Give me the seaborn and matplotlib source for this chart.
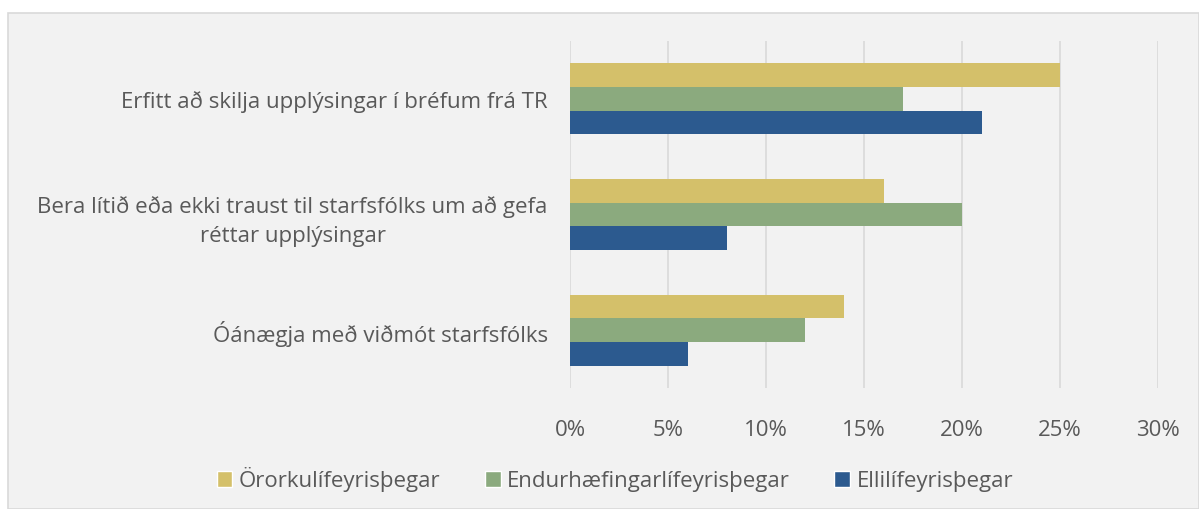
import pandas as pd
import numpy as np
import matplotlib.pyplot as plt
import seaborn as sns
from matplotlib.patches import Rectangle, Patch

# data
categories = [
    "Erfitt að skilja upplýsingar í bréfum frá TR",
    "Bera lítið eða ekki traust til starfsfólks um að gefa\nréttar upplýsingar",
    "Óánægja með viðmót starfsfólks",
]
series = ["Örorkulífeyrisþegar", "Endurhæfingarlífeyrisþegar", "Ellilífeyrisþegar"]
oror = [25, 16, 14]
endur = [17, 20, 12]
elli = [21, 8, 6]
colors = ["#D4C06A", "#8BAA7E", "#2C5A8F"]
xticks = [0, 5, 10, 15, 20, 25, 30]

df = pd.DataFrame({
    "cat": categories * 3,
    "series": [series[0]] * 3 + [series[1]] * 3 + [series[2]] * 3,
    "val": oror + endur + elli,
})

sns.set_style("white")
plt.rcParams["font.family"] = ["Open Sans", "DejaVu Sans"]
txt = "#595959"
fs = 16

fig = plt.figure(figsize=(11.99, 5.10), dpi=100, facecolor="white")
# grey chart area with thin border
fig.patches.append(Rectangle((8 / 1199, 0), 1 - 8 / 1199, 1 - 14 / 510,
                             transform=fig.transFigure, facecolor="#F2F2F2",
                             edgecolor="#D9D9D9", linewidth=1.2, zorder=-5))
ax = fig.add_axes([570 / 1199, 1 - 389 / 510, (1158 - 570) / 1199, (389 - 42) / 510])
ax.set_facecolor("none")

sns.barplot(data=df, y="cat", x="val", hue="series", hue_order=series,
            palette=colors, orient="h", width=0.615, saturation=1,
            linewidth=0, legend=False, ax=ax, zorder=3)

ax.set_xlim(0, 30)
ax.set_xticks(xticks)
ax.set_xticklabels([f"{t}%" for t in xticks], fontsize=fs, color=txt)
ax.set_yticks(range(len(categories)))
ax.set_yticklabels(categories, fontsize=fs, color=txt,
                   multialignment="center", linespacing=1.45)
ax.tick_params(axis="x", length=0, pad=22)
ax.tick_params(axis="y", length=0, pad=16)
ax.set_xlabel("")
ax.set_ylabel("")
ax.set_axisbelow(True)
ax.grid(axis="x", color="#D9D9D9", linewidth=1.2)
for s in ax.spines.values():
    s.set_visible(False)

handles = [Patch(facecolor=c, label=s) for c, s in zip(colors, series)]
fig.legend(handles=handles, loc="center", bbox_to_anchor=(615 / 1199, 1 - 480 / 510),
           ncol=3, frameon=False, fontsize=fs, labelcolor=txt,
           handlelength=0.7, handleheight=0.7, handletextpad=0.3, columnspacing=2.0)

fig.savefig("out.png", dpi=100, facecolor="white")
